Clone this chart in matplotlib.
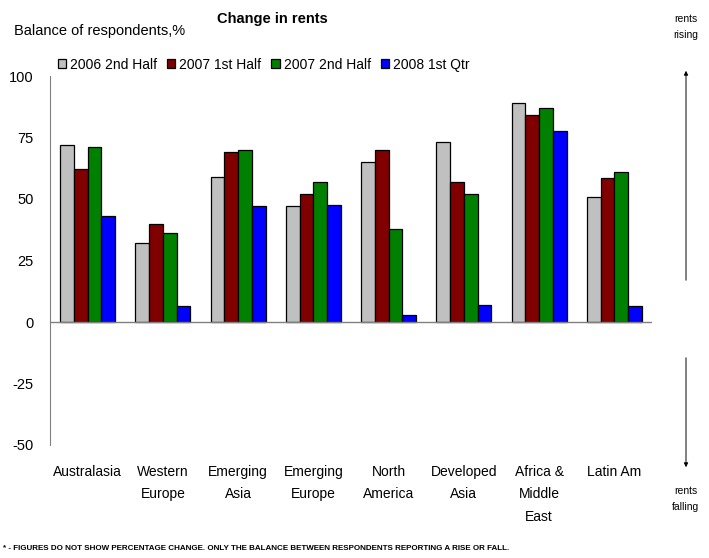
import numpy as np
import matplotlib.pyplot as plt

plt.rcParams['font.family'] = ['Liberation Sans', 'DejaVu Sans']
plt.rcParams['axes.unicode_minus'] = False

regions = ['Australasia', 'Western\nEurope', 'Emerging\nAsia', 'Emerging\nEurope',
           'North\nAmerica', 'Developed\nAsia', 'Africa &\nMiddle\nEast', 'Latin Am']
h2_2006 = [72, 32, 59, 47, 65, 73, 89, 51]
h1_2007 = [62, 40, 69, 52, 70, 57, 84, 58.5]
h2_2007 = [71, 36, 70, 57, 38, 52, 87, 61]
q1_2008 = [43, 6.5, 47, 47.5, 3, 7, 77.5, 6.5]

series = [h2_2006, h1_2007, h2_2007, q1_2008]
names = ['2006 2nd Half', '2007 1st Half', '2007 2nd Half', '2008 1st Qtr']
colors = ['#C0C0C0', '#800000', '#008000', '#0000FF']

fig = plt.figure(figsize=(7.09, 5.58), dpi=100)
ax = fig.add_axes([50/709, (558-445)/558, 602/709, 369/558])

x = np.arange(len(regions))
w = 0.183
for i, (vals, c, n) in enumerate(zip(series, colors, names)):
    ax.bar(x + (i - 1.5) * w, vals, w, color=c, edgecolor='black', linewidth=0.9, label=n)

ax.set_xlim(-0.5, len(regions) - 0.5)
ax.set_ylim(-50, 100)
ax.set_yticks([-50, -25, 0, 25, 50, 75, 100])
ax.tick_params(axis='y', length=0, labelsize=10.5, pad=12)
ax.set_xticks([])
for xi, lab in zip(x, regions):
    ax.text(xi, -58, lab, ha='center', va='top', fontsize=10, linespacing=1.8,
            clip_on=False)

for s in ['top', 'right', 'bottom']:
    ax.spines[s].set_visible(False)
ax.spines['left'].set_color('#808080')
ax.axhline(0, color='#808080', linewidth=1)

fig.legend(loc='upper left', bbox_to_anchor=(52/709, 1 - 52/558), ncol=4,
           frameon=False, fontsize=10, handlelength=0.6, handleheight=0.6,
           handletextpad=0.3, columnspacing=0.7, borderaxespad=0)

fig.text(272/709, 1 - 19/558, 'Change in rents', ha='center', va='center',
         fontsize=10.5, fontweight='bold')
fig.text(14/709, 1 - 31/558, 'Balance of respondents,%', ha='left', va='center', fontsize=10.5)
fig.text(686/709, 1 - 27/558, 'rents\nrising', ha='center', va='center', fontsize=7.5, linespacing=1.7)
fig.text(686/709, 1 - 499/558, 'rents\nfalling', ha='center', va='center', fontsize=7.5, linespacing=1.7)

fig.add_artist(plt.Annotation('', xy=(686/709, 1 - 68/558), xytext=(686/709, 1 - 283/558),
                              xycoords='figure fraction', textcoords='figure fraction',
                              arrowprops=dict(arrowstyle='-|>', color='black', lw=0.7,
                                              mutation_scale=6)))
fig.add_artist(plt.Annotation('', xy=(686/709, 1 - 470/558), xytext=(686/709, 1 - 355/558),
                              xycoords='figure fraction', textcoords='figure fraction',
                              arrowprops=dict(arrowstyle='-|>', color='black', lw=0.7,
                                              mutation_scale=6)))

fig.text(3/709, 1 - 548/558,
         '* - FIGURES DO NOT SHOW PERCENTAGE CHANGE. ONLY THE BALANCE BETWEEN RESPONDENTS REPORTING A RISE OR FALL.',
         ha='left', va='center', fontsize=5.8, fontweight='bold')

fig.savefig('out.png', dpi=100)
